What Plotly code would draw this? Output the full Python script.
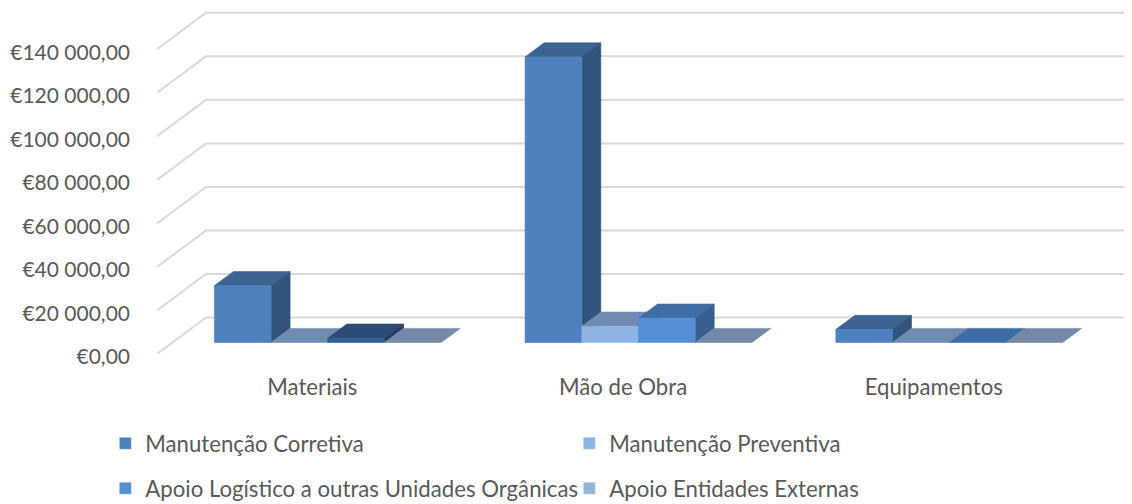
import plotly.graph_objects as go

categories = ["Materiais", "Mão de Obra", "Equipamentos"]
series_names = ["Manutenção Corretiva", "Manutenção Preventiva",
                "Apoio Logístico a outras Unidades Orgânicas", "Apoio Entidades Externas"]
corretiva = [26100, 131200, 6000]
preventiva = [0, 7500, 0]
apoio_logistico = [2000, 11200, 0]
apoio_externas = [0, 0, 0]
series_values = [corretiva, preventiva, apoio_logistico, apoio_externas]
y_ticks = [0, 20000, 40000, 60000, 80000, 100000, 120000, 140000]
y_tick_labels = ["€0,00", "€20 000,00", "€40 000,00", "€60 000,00", "€80 000,00",
                 "€100 000,00", "€120 000,00", "€140 000,00"]
legend_colors = ["#4f81bd", "#8eb4e3", "#558ed5", "#95b3d7"]
# (front, side, top) per series per category
face_colors = [
    [("#4e80bd", "#31547c", "#3c6493"), ("#4e80bd", "#31547c", "#3c6493"), ("#4e80bd", "#31547c", "#3c6493")],
    [("#8eb4e3", "#5d7ea8", "#6f8bb0"), ("#8eb4e3", "#5d7ea8", "#6f8bb0"), ("#8eb4e3", "#5d7ea8", "#6f8bb0")],
    [("#2e5e95", "#1f3d64", "#2b4a75"), ("#558ed5", "#375f90", "#3f6da5"), ("#558ed5", "#375f90", "#3f6ca5")],
    [("#95b3d7", "#7488a8", "#7488a8"), ("#95b3d7", "#7488a8", "#7488a8"), ("#95b3d7", "#7488a8", "#7488a8")],
]

# the page body adds an 8 px margin, so offsets are 8 px less; the figure runs past the window
# bottom so that the lower legend does not push the plot margin
W, H = 1124, 512
LEFT, BASE = 149, 346.5
CAT_PX = 310.7
VAL_PX = 43.6 / 20000
WALL_DX, WALL_DY = 49, 36.5
BAR_W = 56.7 / CAT_PX
D_FRONT, D_BACK = 0.315, 0.703
FONT = "Lato"
TEXT = "#595959"
SIZE = 22.2

x_min = -0.5
x_max = x_min + (W - LEFT) / CAT_PX
y_max = BASE / VAL_PX


def pt(x, v, d):
    return x + d * WALL_DX / CAT_PX, v + d * WALL_DY / VAL_PX


def poly(points, color, edge=None):
    xs = [p[0] for p in points] + [points[0][0]]
    ys = [p[1] for p in points] + [points[0][1]]
    return go.Scatter(x=xs, y=ys, mode="lines", fill="toself", fillcolor=color,
                      line=dict(color=edge or color, width=0.6), showlegend=False,
                      hoverinfo="skip")


fig = go.Figure()

# gridlines running from the front-left edge up the side wall and along the back wall
for v in y_ticks:
    a = pt(x_min, v, 0)
    b = pt(x_min, v, 1)
    fig.add_trace(go.Scatter(x=[a[0], b[0], x_max], y=[a[1], b[1], b[1]], mode="lines",
                             line=dict(color="#d9d9d9", width=2), showlegend=False,
                             hoverinfo="skip"))

for c in range(len(categories)):
    for s, values in enumerate(series_values):
        v = values[c]
        x0 = c + BAR_W * (s - 2)
        x1 = x0 + BAR_W
        front, side, top = face_colors[s][c]
        fig.add_trace(poly([pt(x0, v, D_FRONT), pt(x1, v, D_FRONT), pt(x1, v, D_BACK), pt(x0, v, D_BACK)], top))
        if v > 0:
            fig.add_trace(poly([pt(x1, 0, D_FRONT), pt(x1, 0, D_BACK), pt(x1, v, D_BACK), pt(x1, v, D_FRONT)], side))
            fig.add_trace(poly([pt(x0, 0, D_FRONT), pt(x1, 0, D_FRONT), pt(x1, v, D_FRONT), pt(x0, v, D_FRONT)], front))

for s, name in enumerate(series_names):
    fig.add_trace(go.Bar(x=[None], y=[None], name=name, marker_color=legend_colors[s],
                         legend="legend" if s < 2 else "legend2"))

legend_common = dict(orientation="h", x=-0.053, xanchor="left", yanchor="middle",
                     entrywidth=419, entrywidthmode="pixels", itemwidth=30,
                     bgcolor="rgba(0,0,0,0)", font=dict(family=FONT, size=SIZE, color=TEXT),
                     traceorder="normal")

fig.update_layout(
    width=W, height=H, autosize=False,
    margin=dict(l=LEFT, r=0, t=0, b=H - BASE),
    paper_bgcolor="white", plot_bgcolor="white",
    font=dict(family=FONT, size=SIZE, color=TEXT),
    legend=dict(y=(BASE - 436) / BASE, **legend_common),
    legend2=dict(y=(BASE - 481) / BASE, **legend_common),
    xaxis=dict(range=[x_min, x_max], tickvals=list(range(len(categories))), ticktext=categories,
               showgrid=False, zeroline=False, showline=False, ticks="", ticklabelstandoff=18,
               tickfont=dict(family=FONT, size=SIZE, color=TEXT)),
    yaxis=dict(range=[0, y_max], tickvals=y_ticks, ticktext=y_tick_labels,
               showgrid=False, zeroline=False, showline=False, ticks="", ticklabelstandoff=26,
               ticklabelshift=3,
               tickfont=dict(family=FONT, size=21, color=TEXT)),
)

fig.write_html("out.html")
